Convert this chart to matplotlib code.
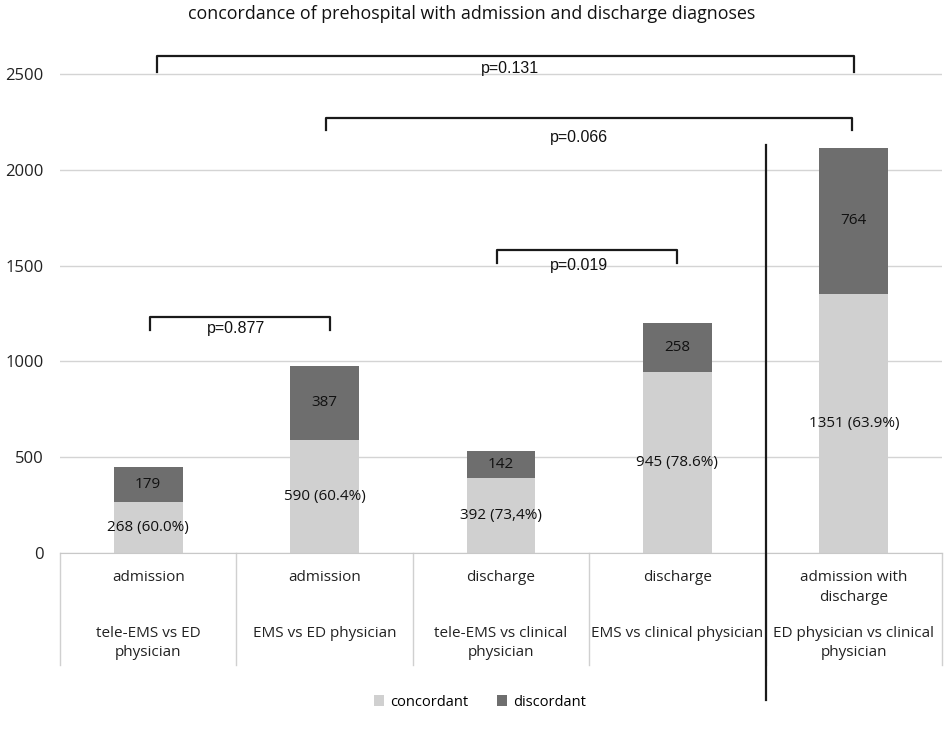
import numpy as np
import matplotlib.pyplot as plt

plt.rcParams['font.family'] = ['Open Sans', 'DejaVu Sans']

top_labels = ['admission', 'admission', 'discharge', 'discharge', 'admission with\ndischarge']
bottom_labels = ['tele-EMS vs ED\nphysician', 'EMS vs ED physician',
                 'tele-EMS vs clinical\nphysician', 'EMS vs clinical physician',
                 'ED physician vs clinical\nphysician']
concordant = [268, 590, 392, 945, 1351]
discordant = [179, 387, 142, 258, 764]
conc_labels = ['268 (60.0%)', '590 (60.4%)', '392 (73,4%)', '945 (78.6%)', '1351 (63.9%)']
disc_labels = ['179', '387', '142', '258', '764']

# (x start, x end, bracket height, tick bottom, label, label x, label y)
brackets = [
    (0.05, 4.0, 2594, 2510, 'p=0.131', 2.05, 2531),
    (1.01, 3.99, 2270, 2208, 'p=0.066', 2.44, 2171),
    (1.98, 3.0, 1581, 1514, 'p=0.019', 2.44, 1503),
    (0.01, 1.03, 1232, 1164, 'p=0.877', 0.5, 1174),
]

c_conc = '#d0d0d0'
c_disc = '#6e6e6e'

fig = plt.figure(figsize=(9.44, 7.43), dpi=100)
ax = fig.add_axes([60/944, 1-553/743, 882/944, (553-40)/743])
x = np.arange(len(concordant))
ax.bar(x, concordant, width=0.39, color=c_conc, label='concordant', zorder=2)
ax.bar(x, discordant, width=0.39, bottom=concordant, color=c_disc, label='discordant', zorder=2)

ax.set_xlim(-0.5, 4.5)
ax.set_ylim(0, 2500 * 513 / 479)
ax.set_yticks([0, 500, 1000, 1500, 2000, 2500])
ax.tick_params(axis='y', length=0, pad=12, labelsize=12, colors='#222222')
ax.set_xticks([])
for s in ['top', 'right', 'left']:
    ax.spines[s].set_visible(False)
ax.spines['bottom'].set_color('#c8c8c8')
ax.grid(axis='y', color='#d4d4d4', linewidth=1, zorder=0)

for i in x:
    ax.text(i, concordant[i] / 2, conc_labels[i], ha='center', va='center', fontsize=11, color='#111111', zorder=3)
    ax.text(i, concordant[i] + discordant[i] / 2, disc_labels[i], ha='center', va='center',
            fontsize=11, color='#111111', zorder=3)
    ax.text(i, -90, top_labels[i], ha='center', va='top', fontsize=11, color='#222222',
            linespacing=1.4, clip_on=False)
    ax.text(i, -380, bottom_labels[i], ha='center', va='top', fontsize=11, color='#222222',
            linespacing=1.4, clip_on=False)

# category separators below the axis
for b in np.arange(-0.5, 5.0, 1.0):
    ax.plot([b, b], [0, -584], color='#d0d0d0', linewidth=1, clip_on=False)

# separator between single and combined comparisons
ax.plot([3.5, 3.5], [2129, -767], color='#1a1a1a', linewidth=1.6, clip_on=False, zorder=4)

for x0, x1, yb, yt, lab, lx, ly in brackets:
    ax.plot([x0, x0, x1, x1], [yt, yb, yb, yt], color='#1a1a1a', linewidth=1.6, clip_on=False, zorder=4)
    ax.text(lx, ly, lab, ha='center', va='center', fontsize=11.5, family=['Liberation Sans'],
            color='#111111', clip_on=False, zorder=5)

fig.text(472/944, 1-14/743, 'concordance of prehospital with admission and discharge diagnoses',
         ha='center', va='center', fontsize=12.9, color='#111111')

fig.legend(loc='center', bbox_to_anchor=(480/944, 1-702/743), ncol=2, frameon=False,
           fontsize=10.5, handlelength=0.7, handleheight=0.7, handletextpad=0.4, columnspacing=2.0)

fig.savefig('out.png', dpi=100)
